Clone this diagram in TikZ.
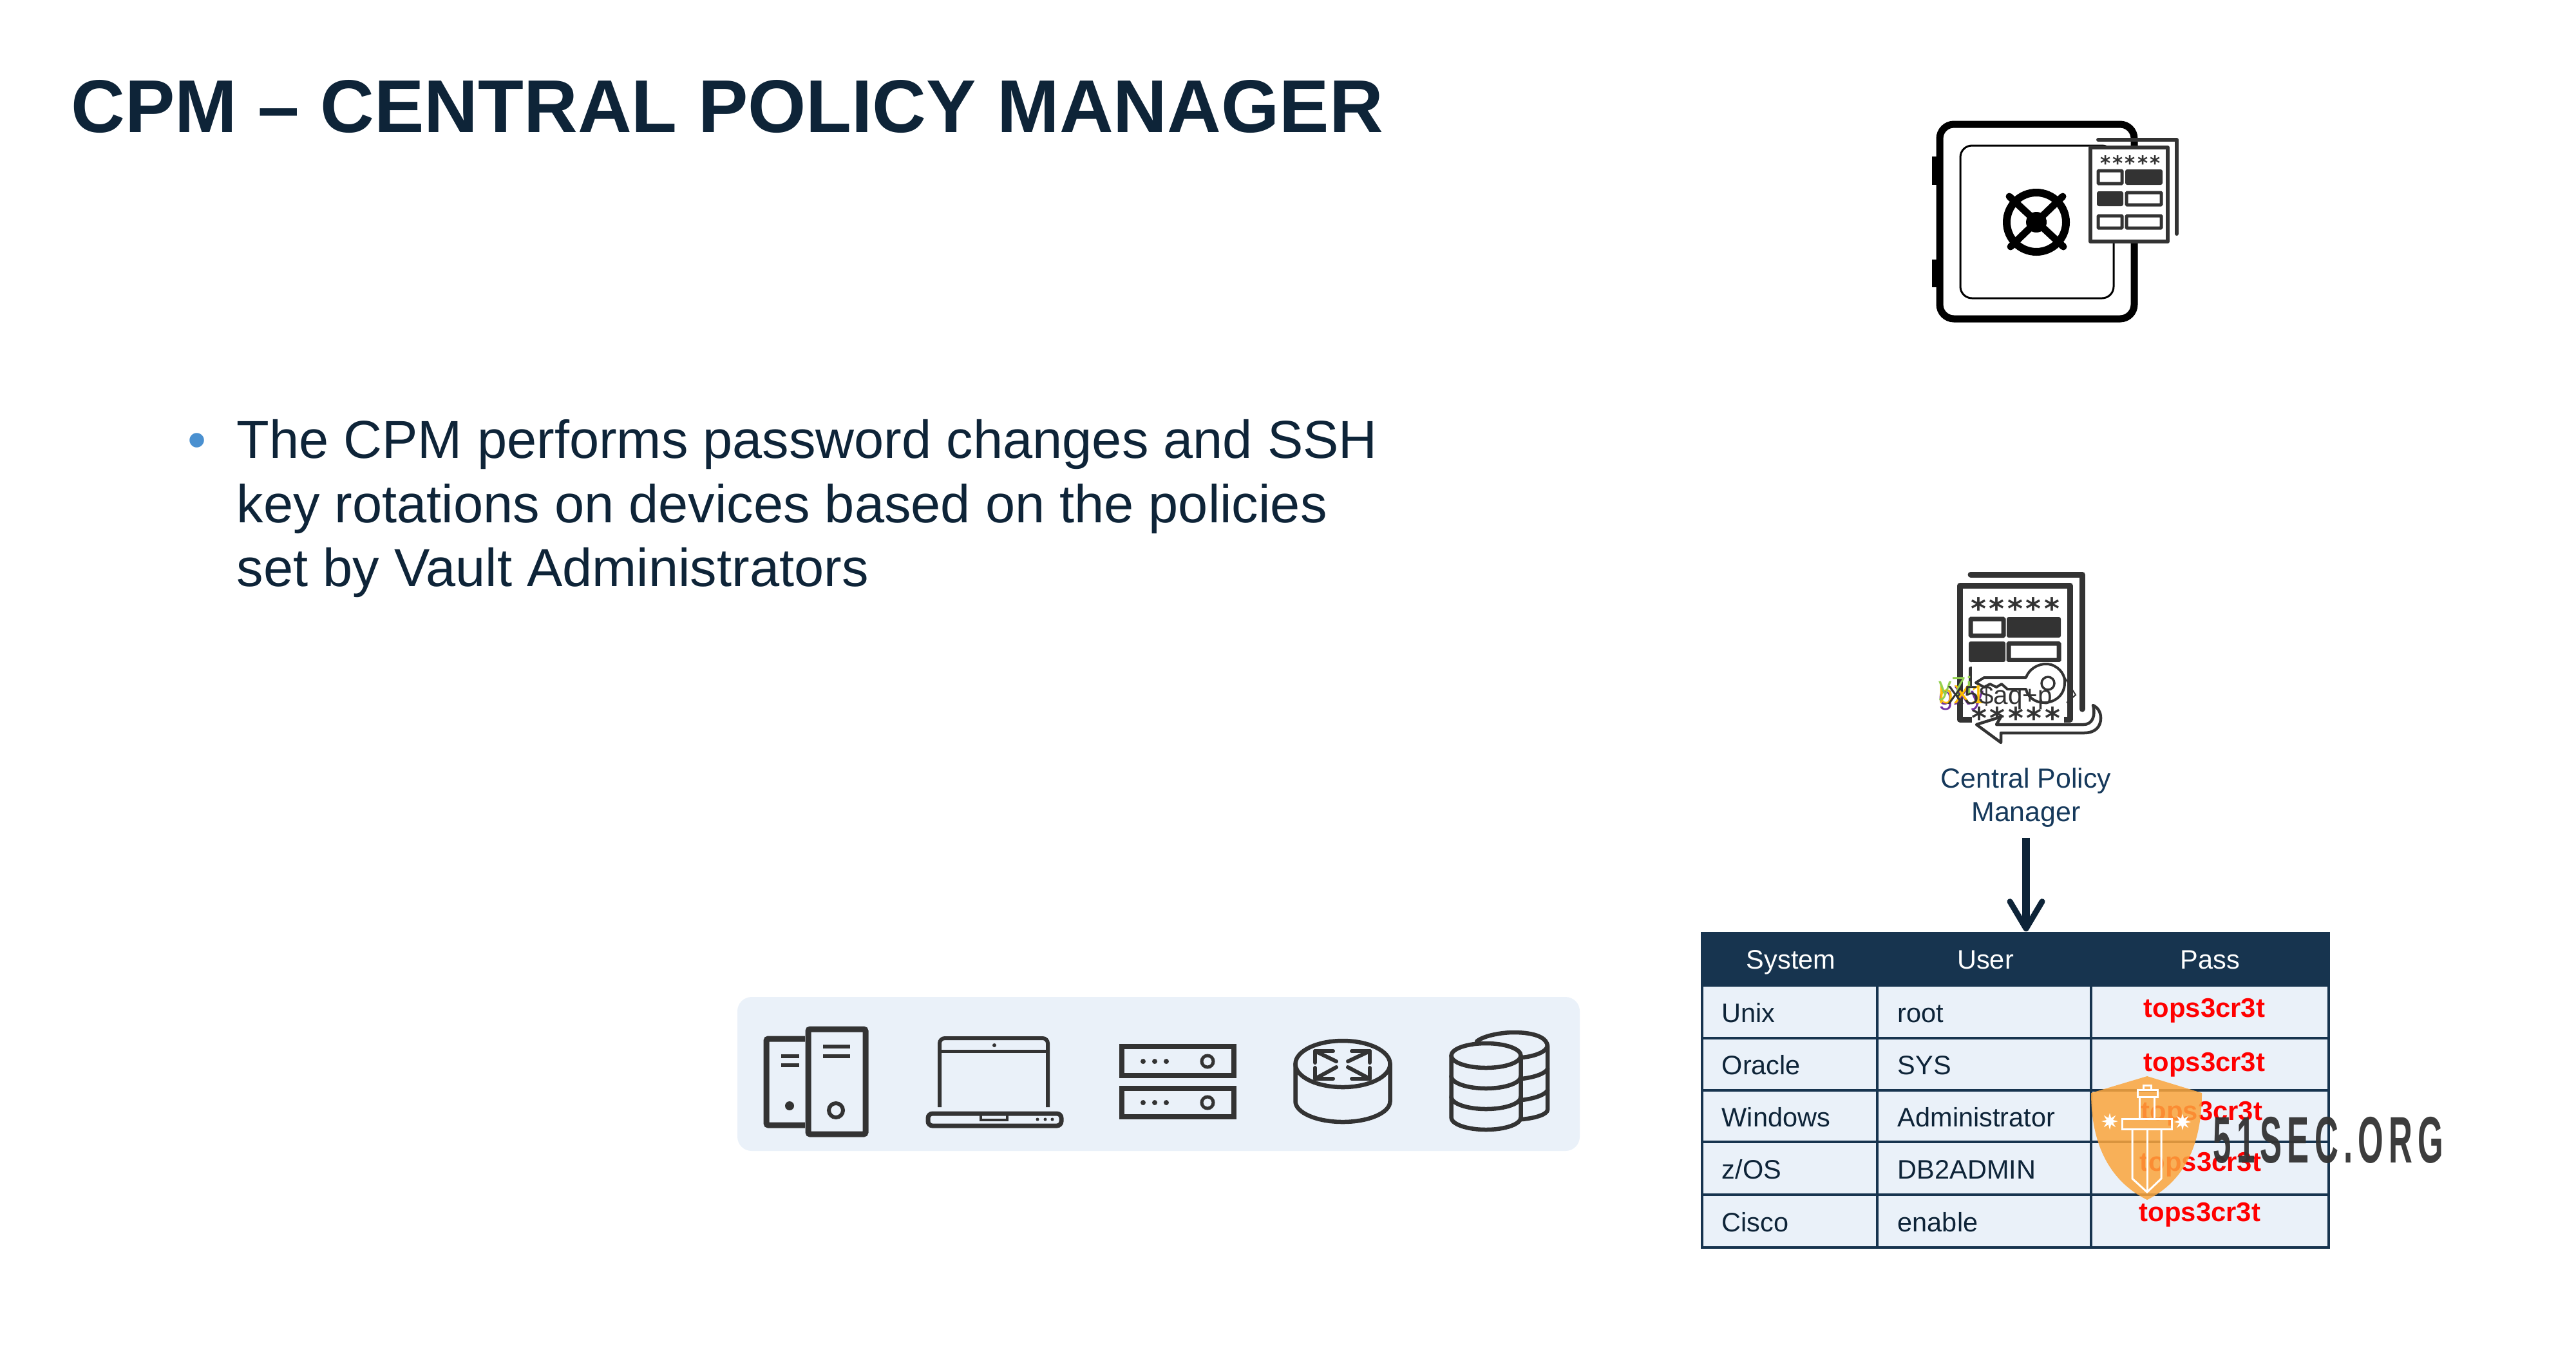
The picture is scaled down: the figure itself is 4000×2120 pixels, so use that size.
\documentclass[tikz,border=0pt]{standalone}
\usepackage{fontspec}
\setmainfont{Liberation Sans}
\newfontfamily\starfont[LetterSpace=10]{DejaVu Sans}
\newfontfamily\markfont[FakeStretch=0.5,LetterSpace=8]{Liberation Sans}
\usetikzlibrary{arrows.meta,shapes.geometric}
\definecolor{navy}{HTML}{0E2438}
\definecolor{labelblue}{HTML}{16395B}
\definecolor{bandblue}{HTML}{17344F}
\definecolor{cellblue}{HTML}{EAF1F9}
\definecolor{bulletblue}{HTML}{4A90D0}
\definecolor{iconink}{HTML}{333333}
\definecolor{shieldorange}{HTML}{FBA53C}
\definecolor{ghostpurple}{HTML}{7030A0}
\definecolor{ghostamber}{HTML}{FFC000}
\definecolor{ghostgreen}{HTML}{92D050}
\tikzset{
  safeline/.style={draw=black,line width=0.11cm,rounded corners=0.22cm},
  docline/.style={draw=iconink,line width=0.06cm,line join=round,line cap=round},
  formfull/.style={fill=iconink,rounded corners=0.03cm},
  formopen/.style={draw=iconink,fill=white,line width=0.05cm,rounded corners=0.01cm},
  iconline/.style={draw=iconink,line width=0.065cm,line cap=round,line join=round},
  gridline/.style={draw=bandblue,line width=0.045cm},
  headcell/.style={anchor=base,inner sep=0pt,text=white,font=\fontsize{11.8}{14}\selectfont},
  bodycell/.style={anchor=base west,inner sep=0pt,text=navy,font=\fontsize{11.8}{14}\selectfont},
  passcell/.style={anchor=base west,inner sep=0pt,text=red,font=\fontsize{11.9}{14}\selectfont\bfseries},
  ghost/.style={anchor=base west,inner sep=0pt,font=\fontsize{11.5}{13}\selectfont},
  flowarrow/.style={draw=navy,line width=0.125cm,shorten <=0.16cm,-{Straight Barb[round,length=0.42cm,width=0.5cm,line width=0.09cm]}},
  burst/.style={star,star points=8,star point ratio=2.4,fill=white,inner sep=0pt,minimum size=0.26cm}
}
\begin{document}
\begin{tikzpicture}[x=0.01cm,y=-0.01cm]
    \useasboundingbox (0,0) rectangle (4000,2120);

    % Title and bullet text
    \node[anchor=base west,inner sep=0pt,text=navy,font=\fontsize{33}{38}\selectfont\bfseries] (title) at (110,205) {CPM – CENTRAL POLICY MANAGER};
    \node[anchor=base west,inner sep=0pt,text=bulletblue,font=\fontsize{23.6}{28}\selectfont] (bullet) at (291,711) {•};
    \node[anchor=north west,inner sep=0pt,text=navy,align=left,font=\fontsize{23.6}{28.3}\selectfont] (bodytext) at (367,651)
        {The CPM performs password changes and SSH\\key rotations on devices based on the policies\\set by Vault Administrators};

    % Safe
    \fill (3000,243) rectangle (3012,287);
    \fill (3000,403) rectangle (3012,446);
    \draw[safeline] (3012,193) rectangle (3314,495);
    \draw[black,line width=0.03cm,rounded corners=0.18cm] (3044,226) rectangle (3282,463);
    \draw[black,line width=0.12cm] (3162,345) circle (46);
    \draw[black,line width=0.11cm,line cap=round] (3120,305) -- (3204,383);
    \draw[black,line width=0.11cm,line cap=round] (3203,305) -- (3122,383);
    \fill[black] (3162,345) circle (16);

    % Form sheet on the safe
    \draw[docline] (3258,217) -- (3380,217) -- (3380,363);
    \draw[docline,fill=white] (3246,229) rectangle (3366,375);
    \node[inner sep=0pt,text=iconink,font=\fontsize{8.8}{10}\selectfont\starfont\bfseries] (safestars) at (3308,253) {*****};
    \draw[formopen] (3258,265) rectangle (3295,285);
    \fill[formfull] (3300,263) rectangle (3358,287);
    \fill[formfull] (3256,297) rectangle (3297,320);
    \draw[formopen] (3302,299) rectangle (3356,318);
    \draw[formopen] (3258,335) rectangle (3295,354);
    \draw[formopen] (3302,335) rectangle (3356,354);

    % Form sheet with key
    \draw[docline,line width=0.09cm] (3060,892) -- (3233,892) -- (3233,1101);
    \draw[docline,line width=0.09cm,fill=white] (3043,909) rectangle (3214,1117);
    \node[inner sep=0pt,text=iconink,font=\fontsize{13}{15}\selectfont\starfont\bfseries] (formstars) at (3129,945) {*****};
    \draw[formopen,line width=0.07cm] (3060,961) rectangle (3111,987);
    \fill[formfull] (3116,958) rectangle (3200,990);
    \fill[formfull] (3057,996) rectangle (3114,1028);
    \draw[formopen,line width=0.07cm] (3119,999) rectangle (3197,1025);
    \fill[formfull] (3057,1035) rectangle (3200,1065);
    \fill[white] (3062,1028) rectangle (3205,1119);
    \node[inner sep=0pt,text=iconink,font=\fontsize{13}{15}\selectfont\starfont\bfseries] (keystars) at (3130,1115) {*****};
    \fill[white] (3062,1119) rectangle (3205,1124);

    % Return arrow
    \draw[docline,line width=0.045cm,fill=white] (3069,1125) -- (3107,1153) -- (3107,1138) -- (3236,1138)
        .. controls (3254,1138) and (3262,1128) .. (3262,1115) .. controls (3262,1106) and (3258,1099) .. (3250,1095)
        .. controls (3254,1110) and (3250,1125) .. (3235,1125) -- (3100,1125) -- (3107,1113) -- cycle;

    % Key
    \draw[docline,line width=0.04cm,fill=white] (3068,1060) -- (3081,1052) -- (3146,1052)
        .. controls (3152,1035) and (3172,1028) .. (3185,1032) .. controls (3200,1037) and (3207,1050) .. (3206,1060)
        .. controls (3206,1080) and (3190,1091) .. (3174,1091) .. controls (3160,1091) and (3148,1082) .. (3146,1070)
        -- (3117,1070) -- (3108,1062) -- (3100,1067) -- (3090,1062) -- (3081,1067) -- cycle;
    \draw[docline,line width=0.035cm] (3180,1061) circle (10);
    \draw[iconink,line width=0.02cm] (3203,1047) -- (3223,1079) -- (3209,1091);

    % Scrambled password
    \node[ghost,text=ghostpurple] (ghostg) at (3010,1094) {gXy};
    \node[ghost,text=ghostamber] (ghostx) at (3010,1092) {bX1};
    \node[ghost,text=ghostgreen] (ghosty) at (3010,1079) {y7i};
    \node[ghost,text=iconink] (scrambled) at (3023,1093) {X5\$aq+p};

    % Label and arrow to the table
    \node[inner sep=0pt,text=labelblue,align=center,font=\fontsize{12.2}{14.8}\selectfont] (cpmlabel) at (3146,1238) {Central Policy\\Manager};

    % Password table
    \fill[cellblue] (2643,1532) rectangle (3616,1937);
    \node[fill=bandblue,inner sep=0pt,minimum width=9.73cm,minimum height=0.85cm] (band) at (3129.5,1489.5) {};
    \draw[flowarrow] (cpmlabel.south) -- (cpmlabel.south |- band.north);
    \draw[gridline] (2643,1447) -- (2643,1937);
    \draw[gridline] (2915,1532) -- (2915,1937);
    \draw[gridline] (3247,1532) -- (3247,1937);
    \draw[gridline] (3616,1447) -- (3616,1937);
    \draw[gridline] (2643,1612) -- (3616,1612);
    \draw[gridline] (2643,1693) -- (3616,1693);
    \draw[gridline] (2643,1773) -- (3616,1773);
    \draw[gridline] (2643,1855) -- (3616,1855);
    \draw[gridline] (2641,1937) -- (3618,1937);

    \node[headcell] (hsystem) at (2781,1504) {System};
    \node[headcell] (huser) at (3083,1504) {User};
    \node[headcell] (hpass) at (3432,1504) {Pass};
    \node[bodycell] (sysunix) at (2673,1587) {Unix};
    \node[bodycell] (sysoracle) at (2673,1668) {Oracle};
    \node[bodycell] (syswin) at (2673,1749) {Windows};
    \node[bodycell] (syszos) at (2673,1830) {z/OS};
    \node[bodycell] (syscisco) at (2673,1912) {Cisco};
    \node[bodycell] (userunix) at (2946,1587) {root};
    \node[bodycell] (useroracle) at (2946,1668) {SYS};
    \node[bodycell] (userwin) at (2946,1749) {Administrator};
    \node[bodycell] (userzos) at (2946,1830) {DB2ADMIN};
    \node[bodycell] (usercisco) at (2946,1912) {enable};
    \node[passcell] (passunix) at (3328,1579) {tops3cr3t};
    \node[passcell] (passoracle) at (3328,1663) {tops3cr3t};
    \node[passcell] (passwin) at (3324,1739) {tops3cr3t};
    \node[passcell] (passzos) at (3322,1818) {tops3cr3t};
    \node[passcell] (passcisco) at (3321,1896) {tops3cr3t};

    % Device panel
    \fill[cellblue,rounded corners=0.22cm] (1145,1548) rectangle (2453,1787);

    % Tower computers
    \draw[iconink,line width=0.09cm,rounded corners=0.03cm] (1250,1613) -- (1190,1613) -- (1190,1747) -- (1250,1747);
    \draw[iconink,line width=0.09cm,rounded corners=0.03cm] (1255,1598) rectangle (1344,1761);
    \draw[iconink,line width=0.06cm] (1278,1625) -- (1320,1625);
    \draw[iconink,line width=0.06cm] (1278,1640) -- (1320,1640);
    \draw[iconink,line width=0.055cm] (1213,1640) -- (1241,1640);
    \draw[iconink,line width=0.055cm] (1213,1654) -- (1241,1654);
    \fill[iconink] (1226,1717) circle (7);
    \draw[iconink,line width=0.06cm] (1298,1724) circle (11);

    % Laptop
    \draw[iconink,line width=0.06cm,rounded corners=0.08cm] (1459,1719) -- (1459,1612) -- (1627,1612) -- (1627,1719);
    \draw[iconink,line width=0.05cm] (1459,1632) -- (1627,1632);
    \fill[iconink] (1544,1623) circle (3);
    \draw[iconink,line width=0.07cm,rounded corners=0.07cm] (1441,1729) -- (1441,1748) -- (1648,1748) -- (1648,1729) -- cycle;
    \draw[iconink,line width=0.04cm] (1523,1730) rectangle (1564,1739);
    \fill[iconink] (1611,1738) circle (2.5);
    \fill[iconink] (1623,1738) circle (2.5);
    \fill[iconink] (1634,1738) circle (2.5);

    % Rack servers
    \draw[iconink,line width=0.085cm] (1742,1625) rectangle (1916,1670);
    \draw[iconink,line width=0.085cm] (1742,1690) rectangle (1916,1734);
    \fill[iconink] (1775,1648) circle (4);
    \fill[iconink] (1793,1648) circle (4);
    \fill[iconink] (1811,1648) circle (4);
    \draw[iconink,line width=0.05cm] (1875,1648) circle (9);
    \fill[iconink] (1775,1712) circle (4);
    \fill[iconink] (1793,1712) circle (4);
    \fill[iconink] (1811,1712) circle (4);
    \draw[iconink,line width=0.05cm] (1875,1712) circle (9);

    % Router
    \draw[iconline] (2085,1652) ellipse [x radius=73.5,y radius=36];
    \draw[iconline] (2011.5,1652) -- (2011.5,1710) arc [start angle=180,end angle=0,x radius=73.5,y radius=32] -- (2158.5,1652);
    \draw[iconline,line width=0.06cm] (2070,1632) -- (2042,1632) -- (2042,1650);
    \draw[iconline,line width=0.06cm] (2042,1632) -- (2075,1648);
    \draw[iconline,line width=0.06cm] (2099,1632) -- (2127,1632) -- (2127,1650);
    \draw[iconline,line width=0.06cm] (2127,1632) -- (2093,1648);
    \draw[iconline,line width=0.06cm] (2070,1675) -- (2042,1675) -- (2042,1658);
    \draw[iconline,line width=0.06cm] (2042,1675) -- (2075,1657);
    \draw[iconline,line width=0.06cm] (2099,1675) -- (2127,1675) -- (2127,1658);
    \draw[iconline,line width=0.06cm] (2127,1675) -- (2093,1657);

    % Database
    \draw[iconline] (2293,1617) .. controls (2305,1607) and (2335,1603) .. (2350,1603) .. controls (2385,1603) and (2403,1612) .. (2403,1625)
        -- (2403,1723) .. controls (2403,1730) and (2385,1736) .. (2363,1738);
    \draw[iconline] (2363,1642) .. controls (2385,1640) and (2403,1632) .. (2403,1623);
    \draw[iconline] (2363,1675) .. controls (2380,1673) and (2398,1668) .. (2403,1660);
    \draw[iconline] (2363,1708) .. controls (2380,1706) and (2398,1701) .. (2403,1693);
    \draw[iconline,fill=cellblue] (2307.5,1639) ellipse [x radius=54,y radius=19];
    \draw[iconline] (2253.5,1639) -- (2253.5,1735) arc [start angle=180,end angle=0,x radius=54,y radius=19] -- (2361.5,1639);
    \draw[iconline] (2253.5,1671) arc [start angle=180,end angle=0,x radius=54,y radius=19];
    \draw[iconline] (2253.5,1703) arc [start angle=180,end angle=0,x radius=54,y radius=19];

    % Shield mark
    \fill[shieldorange,opacity=0.85] (3334,1671) -- (3419,1697) .. controls (3419,1780) and (3390,1835) .. (3334,1863)
        .. controls (3278,1835) and (3247,1780) .. (3247,1697) -- cycle;
    \draw[white,line width=0.03cm] (3311,1753) -- (3311,1830) -- (3334,1851) -- (3356,1830) -- (3356,1753);
    \draw[white,line width=0.03cm] (3334,1753) -- (3334,1851);
    \draw[white,line width=0.03cm] (3295,1737) rectangle (3372,1753);
    \draw[white,line width=0.03cm] (3322,1703) -- (3322,1737);
    \draw[white,line width=0.03cm] (3345,1703) -- (3345,1737);
    \draw[white,line width=0.03cm] (3319,1692) rectangle (3350,1703);
    \draw[white,line width=0.03cm] (3328,1685) rectangle (3340,1692);
    \node[burst] (burstleft) at (3276,1741) {};
    \node[burst] (burstright) at (3389,1742) {};
    \node[anchor=base west,inner sep=0pt,text=iconink,text opacity=0.95,font=\fontsize{29}{32}\selectfont\markfont\bfseries] (marktext) at (3436,1805) {51SEC.ORG};
\end{tikzpicture}
\end{document}
